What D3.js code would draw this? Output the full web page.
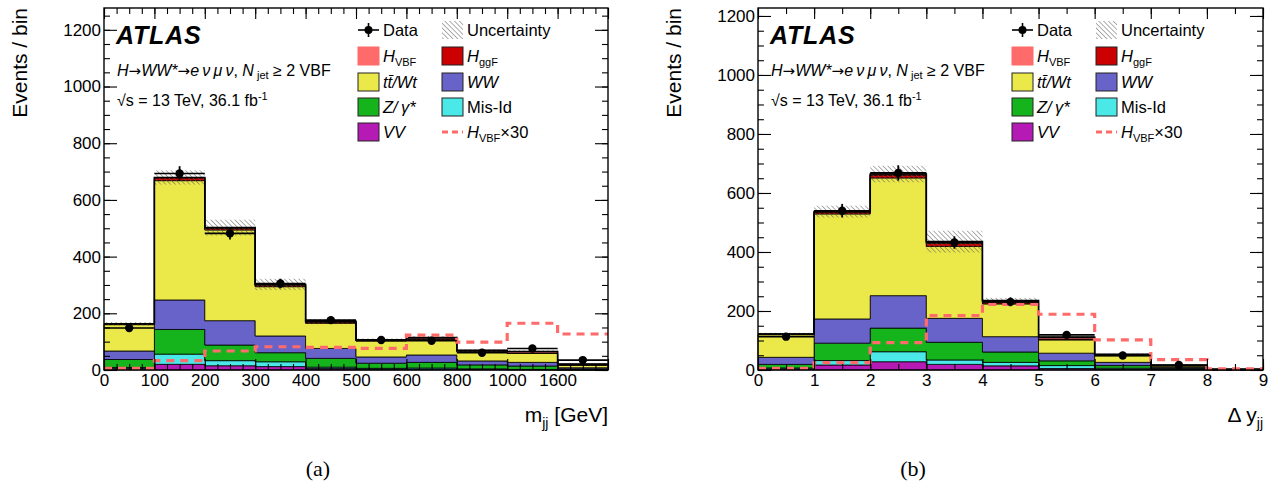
<!DOCTYPE html>
<html>
<head>
<meta charset="utf-8">
<script src="https://cdn.jsdelivr.net/npm/d3@7"></script>
<style>
  body { margin: 0; background: #fff; }
  svg text { font-family: "Liberation Sans", Arial, Helvetica, sans-serif; fill: #000; }
</style>
</head>
<body>
<div id="chart"></div>
<script>
// ---- (a) m_jj panel ----
var mjjLabels = ["0", "100", "200", "300", "400", "500", "600", "800", "1000", "1600"];
var mjjVV     = [5, 20, 15, 12, 5, 3, 3, 2, 1, 0.5];
var mjjMisId  = [4, 36, 18, 17, 5, 3, 4, 2, 1, 0.5];
var mjjZ      = [28, 87, 55, 32, 31, 18, 20, 14, 12, 3];
var mjjWW     = [30, 104, 86, 59, 35, 22, 26, 14, 13, 4];
var mjjTop    = [93, 421, 320, 174, 89, 56, 55, 33, 32, 8];
var mjjGGF    = [3, 10, 6, 5, 4, 2, 2, 1, 1, 0.5];
var mjjVBF    = [0.2, 1.1, 2.2, 2.7, 2.7, 2.5, 4.1, 3.3, 5.5, 4.2];
var mjjVBFx30 = [6, 33, 67, 82, 80, 76, 123, 98, 165, 127];
var mjjUnc    = [6, 25, 28, 20, 8, 5, 6, 4, 4, 3];
var mjjData   = [148, 693, 482, 305, 176, 106, 103, 61, 76, 35];
var mjjErr    = [12, 26, 22, 17, 13, 10, 10, 8, 9, 6];

// ---- (b) delta y_jj panel ----
var dyLabels = ["0", "1", "2", "3", "4", "5", "6", "7", "8", "9"];
var dyVV     = [4, 17, 28, 19, 14, 5, 2, 1, 0.3];
var dyMisId  = [3, 15, 34, 15, 12, 10, 4, 1, 0.2];
var dyZ      = [12, 59, 80, 60, 35, 16, 9, 3, 0.5];
var dyWW     = [24, 82, 110, 81, 52, 26, 11, 4, 0.5];
var dyTop    = [77, 356, 399, 244, 111, 45, 22, 5, 0.8];
var dyGGF    = [2, 7, 10, 10, 4, 3, 1.5, 0.5, 0.1];
var dyVBF    = [0.2, 0.8, 3.1, 6.1, 7.4, 6.3, 3.4, 1.2, 0.15];
var dyVBFx30 = [6, 25, 93, 184, 222, 189, 102, 35, 4];
var dyUnc    = [4, 20, 28, 37, 9, 4, 3, 1, 0.5];
var dyData   = [113, 540, 668, 432, 231, 119, 49, 17, null];
var dyErr    = [11, 23, 26, 21, 15, 11, 7, 4, 0];

var keys   = ["vv", "misid", "z", "ww", "top", "ggf", "vbf"];
var colors = ["#b51ab5", "#4be8e8", "#16b41c", "#6863c9", "#ebe94a", "#cc0000", "#ff6b6b"];

var svgWidth = 1274;
var svgHeight = 487;

var svg = d3.select("#chart")
  .append("svg")
  .attr("width", svgWidth)
  .attr("height", svgHeight);

// hatch pattern for the uncertainty band
var pat = svg.append("defs").append("pattern")
  .attr("id", "hatch")
  .attr("patternUnits", "userSpaceOnUse")
  .attr("width", 3.4)
  .attr("height", 3.4)
  .attr("patternTransform", "rotate(-45)");
pat.append("line")
  .attr("x1", 0).attr("y1", 0).attr("x2", 0).attr("y2", 3.4)
  .attr("stroke", "#5a5a5a")
  .attr("stroke-width", 1);

function stepPoints(vals) {
  var pts = [];
  vals.forEach(function(v, i) { pts.push([i, v], [i + 1, v]); });
  return pts;
}

function drawPanel(p) {
  var g = svg.append("g");
  var n = p.vv.length;

  var x = d3.scaleLinear().domain([0, n]).range([p.left, p.right]);
  var y = d3.scaleLinear().domain([0, p.ymax]).range([p.bottom, p.top]);

  // table for d3.stack
  var rows = p.vv.map(function(d, i) {
    return { vv: p.vv[i], misid: p.misid[i], z: p.z[i], ww: p.ww[i],
             top: p.tt[i], ggf: p.ggf[i], vbf: p.vbf[i] };
  });
  var series = d3.stack().keys(keys)(rows);

  var area = d3.area()
    .x(function(d) { return x(d.i); })
    .y0(function(d) { return y(d.lo); })
    .y1(function(d) { return y(d.hi); });

  series.forEach(function(layer, k) {
    var pts = [];
    layer.forEach(function(d, i) {
      pts.push({ i: i, lo: d[0], hi: d[1] }, { i: i + 1, lo: d[0], hi: d[1] });
    });
    g.append("path")
      .datum(pts)
      .attr("d", area)
      .attr("fill", colors[k])
      .attr("stroke", "#000")
      .attr("stroke-width", 0.8);
  });

  var totals = series[series.length - 1].map(function(d) { return d[1]; });

  var line = d3.line()
    .x(function(d) { return x(d[0]); })
    .y(function(d) { return y(d[1]); });

  // uncertainty band
  g.selectAll(".unc")
    .data(totals)
    .enter()
    .append("rect")
    .attr("x", function(d, i) { return x(i); })
    .attr("width", function(d, i) { return x(i + 1) - x(i); })
    .attr("y", function(d, i) { return y(d + p.unc[i]); })
    .attr("height", function(d, i) { return y(Math.max(0, d - p.unc[i])) - y(d + p.unc[i]); })
    .attr("fill", "url(#hatch)");

  // total prediction outline
  g.append("path")
    .attr("d", line(stepPoints(totals)))
    .attr("fill", "none")
    .attr("stroke", "#000")
    .attr("stroke-width", 1.6);

  // H_VBF x30 overlay
  g.append("path")
    .attr("d", line(stepPoints(p.x30)))
    .attr("fill", "none")
    .attr("stroke", "#ff6b6b")
    .attr("stroke-width", 3.2)
    .attr("stroke-dasharray", "8,6");

  // data points
  p.data.forEach(function(v, i) {
    if (v === null) return;
    var cx = (x(i) + x(i + 1)) / 2;
    g.append("line")
      .attr("x1", x(i)).attr("x2", x(i + 1))
      .attr("y1", y(v)).attr("y2", y(v))
      .attr("stroke", "#000").attr("stroke-width", 1.6);
    g.append("line")
      .attr("x1", cx).attr("x2", cx)
      .attr("y1", y(v - p.err[i])).attr("y2", y(v + p.err[i]))
      .attr("stroke", "#000").attr("stroke-width", 1.8);
    g.append("circle")
      .attr("cx", cx).attr("cy", y(v)).attr("r", 4.2)
      .attr("fill", "#000");
  });

  // axes: ticks point inward on all four sides
  var major = d3.range(0, 1201, 200);
  var minor = d3.range(0, p.ymax, 50);
  var xMajor = d3.range(0, n + 1);
  var xMinor = d3.range(0, n * p.xSub + 1).map(function(d) { return d / p.xSub; });

  function axisStyle(sel) {
    sel.select(".domain").remove();
    sel.selectAll("line").attr("stroke", "#000").attr("stroke-width", 1.1);
    sel.selectAll("text").style("font-size", "17px").attr("fill", "#000");
  }

  g.append("g").attr("transform", "translate(" + p.left + ",0)")
    .call(d3.axisLeft(y).tickValues(minor).tickSize(-6).tickFormat(""))
    .call(axisStyle);
  g.append("g").attr("transform", "translate(" + p.left + ",0)")
    .call(d3.axisLeft(y).tickValues(major).tickSize(-13).tickPadding(3).tickFormat(d3.format("d")))
    .call(axisStyle);
  g.append("g").attr("transform", "translate(" + p.right + ",0)")
    .call(d3.axisRight(y).tickValues(minor).tickSize(-6).tickFormat(""))
    .call(axisStyle);
  g.append("g").attr("transform", "translate(" + p.right + ",0)")
    .call(d3.axisRight(y).tickValues(major).tickSize(-13).tickFormat(""))
    .call(axisStyle);

  g.append("g").attr("transform", "translate(0," + p.bottom + ")")
    .call(d3.axisBottom(x).tickValues(xMinor).tickSize(-6).tickFormat(""))
    .call(axisStyle);
  g.append("g").attr("transform", "translate(0," + p.bottom + ")")
    .call(d3.axisBottom(x).tickValues(xMajor).tickSize(-11).tickPadding(4)
      .tickFormat(function(d) { return d < p.labels.length ? p.labels[d] : ""; }))
    .call(axisStyle);
  g.append("g").attr("transform", "translate(0," + p.top + ")")
    .call(d3.axisTop(x).tickValues(xMinor).tickSize(-6).tickFormat(""))
    .call(axisStyle);
  g.append("g").attr("transform", "translate(0," + p.top + ")")
    .call(d3.axisTop(x).tickValues(xMajor).tickSize(-11).tickFormat(""))
    .call(axisStyle);

  // frame
  g.append("rect")
    .attr("x", p.left).attr("y", p.top)
    .attr("width", p.right - p.left).attr("height", p.bottom - p.top)
    .attr("fill", "none").attr("stroke", "#000").attr("stroke-width", 1.4);

  // y title
  g.append("text")
    .attr("transform", "translate(" + (p.left - 77) + "," + p.top + ") rotate(-90)")
    .attr("text-anchor", "end")
    .style("font-size", "21px")
    .text("Events / bin");

  // x title
  var xt = g.append("text")
    .attr("x", p.right).attr("y", 422)
    .attr("text-anchor", "end")
    .style("font-size", "21px");
  xt.append("tspan").text(p.xTitle);
  xt.append("tspan").attr("dy", 6).style("font-size", "14px").text("jj");
  if (p.xUnit) xt.append("tspan").attr("dy", -6).text(p.xUnit);

  // sub caption
  g.append("text")
    .attr("x", p.caption[1]).attr("y", 476)
    .attr("text-anchor", "middle")
    .style("font-family", "'Liberation Serif', 'Times New Roman', serif")
    .style("font-size", "22px")
    .text(p.caption[0]);

  // ATLAS label and info
  var tx = p.left + 12;
  g.append("text")
    .attr("x", tx).attr("y", 44)
    .style("font-size", "25px").style("font-weight", "bold").style("font-style", "italic")
    .attr("letter-spacing", 0.8)
    .text("ATLAS");

  var proc = g.append("text").attr("x", tx + 1).attr("y", 76).style("font-size", "16px");
  proc.append("tspan").style("font-style", "italic").text("H");
  proc.append("tspan").style("font-family", "'DejaVu Sans', sans-serif").style("font-size", "15px").text("\u2192");
  proc.append("tspan").style("font-style", "italic").text("WW*");
  proc.append("tspan").style("font-family", "'DejaVu Sans', sans-serif").style("font-size", "15px").text("\u2192");
  proc.append("tspan").style("font-style", "italic").text("e\u2009\u03bd\u2009\u03bc\u2009\u03bd");
  proc.append("tspan").text(", ");
  proc.append("tspan").style("font-style", "italic").text("N");
  proc.append("tspan").attr("dy", 3).style("font-size", "11px").text(" jet");
  proc.append("tspan").attr("dy", -3).text(" \u2265 2 VBF");

  var lumi = g.append("text").attr("x", tx + 1).attr("y", 106).style("font-size", "16px");
  lumi.append("tspan").text("\u221as = 13 TeV, 36.1 fb");
  lumi.append("tspan").attr("dy", -6).style("font-size", "11px").text("-1");

  // legend
  var c1 = p.left + 254, c2 = p.left + 338;
  var rowsY = [30, 56, 82, 107, 132];
  var bw = 21, bh = 18;

  function box(cx, cy, fill, stroke) {
    g.append("rect")
      .attr("x", cx).attr("y", cy - bh / 2)
      .attr("width", bw).attr("height", bh)
      .attr("fill", fill).attr("stroke", stroke).attr("stroke-width", 1);
  }
  function label(cx, cy, parts) {
    var t = g.append("text").attr("x", cx + bw + 4).attr("y", cy + 6).style("font-size", "16.5px");
    parts.forEach(function(pt) {
      var s = t.append("tspan").text(pt.t);
      if (pt.i) s.style("font-style", "italic");
      if (pt.sub) s.attr("dy", 4).style("font-size", "11px");
      if (pt.up) s.attr("dy", -4);
    });
  }

  // Data marker
  g.append("line").attr("x1", c1).attr("x2", c1 + bw).attr("y1", rowsY[0]).attr("y2", rowsY[0])
    .attr("stroke", "#000").attr("stroke-width", 1.6);
  g.append("line").attr("x1", c1 + bw / 2).attr("x2", c1 + bw / 2).attr("y1", rowsY[0] - 7).attr("y2", rowsY[0] + 7)
    .attr("stroke", "#000").attr("stroke-width", 1.6);
  g.append("circle").attr("cx", c1 + bw / 2).attr("cy", rowsY[0]).attr("r", 4).attr("fill", "#000");
  label(c1, rowsY[0], [{ t: "Data" }]);

  box(c2, rowsY[0], "url(#hatch)", "none");
  label(c2, rowsY[0], [{ t: "Uncertainty" }]);

  box(c1, rowsY[1], colors[6], colors[6]);
  label(c1, rowsY[1], [{ t: "H", i: true }, { t: "VBF", sub: true }]);
  box(c2, rowsY[1], colors[5], "#222");
  label(c2, rowsY[1], [{ t: "H", i: true }, { t: "ggF", sub: true }]);

  box(c1, rowsY[2], colors[4], "#222");
  label(c1, rowsY[2], [{ t: "tt\u0304/Wt", i: true }]);
  box(c2, rowsY[2], colors[3], "#222");
  label(c2, rowsY[2], [{ t: "WW", i: true }]);

  box(c1, rowsY[3], colors[2], "#222");
  label(c1, rowsY[3], [{ t: "Z/\u2009\u03b3*", i: true }]);
  box(c2, rowsY[3], colors[1], "#222");
  label(c2, rowsY[3], [{ t: "Mis-Id" }]);

  box(c1, rowsY[4], colors[0], "#222");
  label(c1, rowsY[4], [{ t: "VV", i: true }]);
  g.append("line").attr("x1", c2).attr("x2", c2 + bw).attr("y1", rowsY[4]).attr("y2", rowsY[4])
    .attr("stroke", "#ff6b6b").attr("stroke-width", 3.2).attr("stroke-dasharray", "6,4");
  label(c2, rowsY[4], [{ t: "H", i: true }, { t: "VBF", sub: true }, { t: "\u00d730", up: true }]);
}

drawPanel({
  left: 104, right: 608, top: 8, bottom: 370, ymax: 1277, xSub: 4,
  labels: mjjLabels, xTitle: "m", xUnit: " [GeV]", caption: ["(a)", 318],
  vv: mjjVV, misid: mjjMisId, z: mjjZ, ww: mjjWW, tt: mjjTop, ggf: mjjGGF, vbf: mjjVBF,
  x30: mjjVBFx30, unc: mjjUnc, data: mjjData, err: mjjErr
});

drawPanel({
  left: 758, right: 1263, top: 8, bottom: 370, ymax: 1227, xSub: 2,
  labels: dyLabels, xTitle: "\u0394 y", xUnit: null, caption: ["(b)", 913],
  vv: dyVV, misid: dyMisId, z: dyZ, ww: dyWW, tt: dyTop, ggf: dyGGF, vbf: dyVBF,
  x30: dyVBFx30, unc: dyUnc, data: dyData, err: dyErr
});
</script>
</body>
</html>
